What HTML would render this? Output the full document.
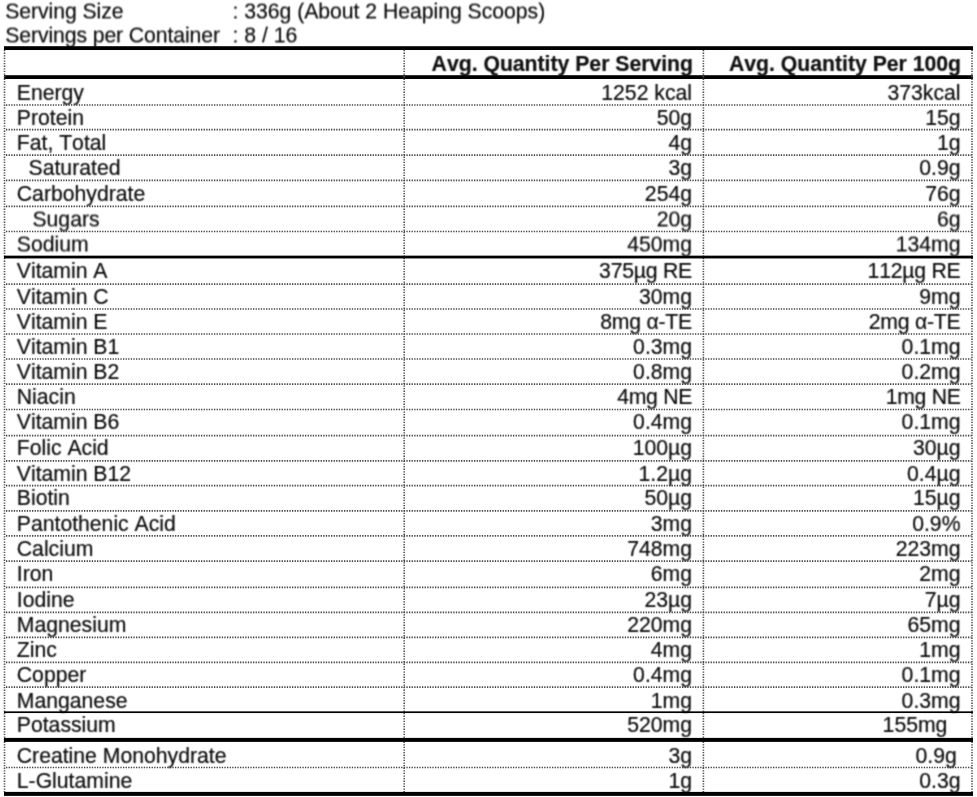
<!DOCTYPE html>
<html lang="en"><head><meta charset="utf-8"><title>Nutrition Information</title>
<style>
html,body{margin:0;padding:0;background:#fff;}
body{width:977px;height:797px;position:relative;overflow:hidden;font-family:"Liberation Sans",Arial,Helvetica,sans-serif;font-size:21.2px;line-height:1;color:#0d0d0d;}
.t{position:absolute;white-space:pre;line-height:1;font-kerning:none;font-variant-ligatures:none;-webkit-text-stroke:0.2px #0d0d0d;}
.r{text-align:right;}
.b{font-weight:bold;color:#111;}
.ln{position:absolute;left:0;top:0;pointer-events:none;}
.ln rect{fill:#000;}
.ln .d{stroke:#424242;stroke-width:1.7;stroke-dasharray:1.3 1.3;fill:none;}
.ln .v{stroke:#505050;stroke-width:1.6;}
#pg,#ph{position:absolute;left:0;top:0;width:977px;height:797px;filter:url(#soft);}
#ph{filter:url(#softh);}
</style></head><body>
<svg width="0" height="0" style="position:absolute" aria-hidden="true"><filter id="soft" x="0" y="0" width="100%" height="100%" color-interpolation-filters="sRGB"><feConvolveMatrix order="3" kernelMatrix="0.0484 0.1232 0.0484 0.1232 0.3136 0.1232 0.0484 0.1232 0.0484" divisor="1" edgeMode="duplicate" preserveAlpha="false"/></filter><filter id="softh" x="0" y="0" width="100%" height="100%" color-interpolation-filters="sRGB"><feConvolveMatrix order="3 4" targetX="1" targetY="2" kernelMatrix="0.0242 0.0616 0.0242 0.0858 0.2184 0.0858 0.0858 0.2184 0.0858 0.0242 0.0616 0.0242" divisor="1" edgeMode="duplicate" preserveAlpha="false"/></filter></svg>
<div id="pg">
<div class="t r b" style="right:284.0px;top:53.00px">Avg. Quantity Per Serving</div>
<div class="t r b" style="right:16.0px;top:53.00px">Avg. Quantity Per 100g</div>
<div class="t " style="left:16.8px;top:82.00px">Energy</div>
<div class="t r " style="right:285.0px;top:82.00px">1252 kcal</div>
<div class="t r " style="right:16.5px;top:82.00px">373kcal</div>
<div class="t " style="left:16.8px;top:107.00px">Protein</div>
<div class="t r " style="right:285.0px;top:107.00px">50g</div>
<div class="t r " style="right:16.5px;top:107.00px">15g</div>
<div class="t " style="left:16.8px;top:132.00px">Fat, Total</div>
<div class="t r " style="right:285.0px;top:132.00px">4g</div>
<div class="t r " style="right:16.5px;top:132.00px">1g</div>
<div class="t " style="left:16.8px;top:157.00px">  Saturated</div>
<div class="t r " style="right:285.0px;top:157.00px">3g</div>
<div class="t r " style="right:16.5px;top:157.00px">0.9g</div>
<div class="t " style="left:16.8px;top:183.00px">Carbohydrate</div>
<div class="t r " style="right:285.0px;top:183.00px">254g</div>
<div class="t r " style="right:16.5px;top:183.00px">76g</div>
<div class="t " style="left:16.8px;top:260.00px">Vitamin A</div>
<div class="t r " style="right:285.0px;top:260.00px;letter-spacing:-0.22px">375µg RE</div>
<div class="t r " style="right:16.5px;top:260.00px;letter-spacing:-0.22px">112µg RE</div>
<div class="t " style="left:16.8px;top:286.00px">Vitamin C</div>
<div class="t r " style="right:285.0px;top:286.00px">30mg</div>
<div class="t r " style="right:16.5px;top:286.00px">9mg</div>
<div class="t " style="left:16.8px;top:311.00px">Vitamin E</div>
<div class="t r " style="right:285.0px;top:311.00px;letter-spacing:-0.22px">8mg α-TE</div>
<div class="t r " style="right:16.5px;top:311.00px;letter-spacing:-0.22px">2mg α-TE</div>
<div class="t " style="left:16.8px;top:336.00px">Vitamin B1</div>
<div class="t r " style="right:285.0px;top:336.00px">0.3mg</div>
<div class="t r " style="right:16.5px;top:336.00px">0.1mg</div>
<div class="t " style="left:16.8px;top:361.00px">Vitamin B2</div>
<div class="t r " style="right:285.0px;top:361.00px">0.8mg</div>
<div class="t r " style="right:16.5px;top:361.00px">0.2mg</div>
<div class="t " style="left:16.8px;top:386.00px">Niacin</div>
<div class="t r " style="right:285.0px;top:386.00px;letter-spacing:-0.3px">4mg NE</div>
<div class="t r " style="right:16.5px;top:386.00px;letter-spacing:-0.3px">1mg NE</div>
<div class="t " style="left:16.8px;top:411.00px">Vitamin B6</div>
<div class="t r " style="right:285.0px;top:411.00px">0.4mg</div>
<div class="t r " style="right:16.5px;top:411.00px">0.1mg</div>
<div class="t " style="left:16.8px;top:437.00px">Folic Acid</div>
<div class="t r " style="right:285.0px;top:437.00px">100µg</div>
<div class="t r " style="right:16.5px;top:437.00px">30µg</div>
<div class="t " style="left:16.8px;top:463.00px">Vitamin B12</div>
<div class="t r " style="right:285.0px;top:463.00px">1.2µg</div>
<div class="t r " style="right:16.5px;top:463.00px">0.4µg</div>
<div class="t " style="left:16.8px;top:487.00px">Biotin</div>
<div class="t r " style="right:285.0px;top:487.00px">50µg</div>
<div class="t r " style="right:16.5px;top:487.00px">15µg</div>
<div class="t " style="left:16.8px;top:513.00px">Pantothenic Acid</div>
<div class="t r " style="right:285.0px;top:513.00px">3mg</div>
<div class="t r " style="right:16.5px;top:513.00px">0.9%</div>
<div class="t " style="left:16.8px;top:538.00px">Calcium</div>
<div class="t r " style="right:285.0px;top:538.00px">748mg</div>
<div class="t r " style="right:16.5px;top:538.00px">223mg</div>
<div class="t " style="left:16.8px;top:563.00px">Iron</div>
<div class="t r " style="right:285.0px;top:563.00px">6mg</div>
<div class="t r " style="right:16.5px;top:563.00px">2mg</div>
<div class="t " style="left:16.8px;top:589.00px">Iodine</div>
<div class="t r " style="right:285.0px;top:589.00px">23µg</div>
<div class="t r " style="right:16.5px;top:589.00px">7µg</div>
<div class="t " style="left:16.8px;top:614.00px">Magnesium</div>
<div class="t r " style="right:285.0px;top:614.00px">220mg</div>
<div class="t r " style="right:16.5px;top:614.00px">65mg</div>
<div class="t " style="left:16.8px;top:639.00px">Zinc</div>
<div class="t r " style="right:285.0px;top:639.00px">4mg</div>
<div class="t r " style="right:16.5px;top:639.00px">1mg</div>
<div class="t " style="left:16.8px;top:664.00px">Copper</div>
<div class="t r " style="right:285.0px;top:664.00px">0.4mg</div>
<div class="t r " style="right:16.5px;top:664.00px">0.1mg</div>
<div class="t " style="left:16.8px;top:690.00px">Manganese</div>
<div class="t r " style="right:285.0px;top:690.00px">1mg</div>
<div class="t r " style="right:16.5px;top:690.00px">0.3mg</div>
<div class="t " style="left:16.8px;top:714.00px">Potassium</div>
<div class="t r " style="right:285.0px;top:714.00px">520mg</div>
<div class="t r " style="right:29.6px;top:714.00px">155mg</div>
<div class="t " style="left:16.8px;top:745.00px">Creatine Monohydrate</div>
<div class="t r " style="right:285.0px;top:745.00px">3g</div>
<div class="t r " style="right:20.2px;top:745.00px">0.9g</div>
<div class="t " style="left:16.8px;top:770.00px">L-Glutamine</div>
<div class="t r " style="right:285.0px;top:770.00px">1g</div>
<div class="t r " style="right:16.5px;top:770.00px">0.3g</div>
</div>
<div id="ph">
<div class="t " style="left:5.2px;top:0.00px;letter-spacing:-0.05px">Serving Size</div>
<div class="t " style="left:232.5px;top:0.00px;letter-spacing:-0.02px">: 336g (About 2 Heaping Scoops)</div>
<div class="t " style="left:5.2px;top:24.00px;letter-spacing:-0.09px">Servings per Container</div>
<div class="t " style="left:232.5px;top:24.00px">: 8 / 16</div>
<div class="t " style="left:14.8px;top:208.00px">   Sugars</div>
<div class="t r " style="right:285.0px;top:208.00px">20g</div>
<div class="t r " style="right:16.5px;top:208.00px">6g</div>
<div class="t " style="left:16.8px;top:233.00px">Sodium</div>
<div class="t r " style="right:285.0px;top:233.00px">450mg</div>
<div class="t r " style="right:16.5px;top:233.00px">134mg</div>
</div>
<svg class="ln" width="977" height="797" viewBox="0 0 977 797" aria-hidden="true">
<rect x="4.0" y="46.2" width="969.0" height="3.8"/>
<rect x="4.0" y="75.2" width="969.0" height="3.8"/>
<line class="d v" x1="4.50" y1="50" x2="4.50" y2="792"/>
<line class="d v" x1="404.20" y1="50" x2="404.20" y2="792"/>
<line class="d v" x1="703.40" y1="50" x2="703.40" y2="792"/>
<line class="d v" x1="972.00" y1="50" x2="972.00" y2="792"/>
<line class="d" x1="6.00" y1="105.00" x2="971.50" y2="105.00"/>
<line class="d" x1="6.00" y1="129.70" x2="971.50" y2="129.70"/>
<line class="d" x1="6.00" y1="155.10" x2="971.50" y2="155.10"/>
<line class="d" x1="6.00" y1="180.30" x2="971.50" y2="180.30"/>
<line class="d" x1="6.00" y1="206.30" x2="971.50" y2="206.30"/>
<line class="d" x1="6.00" y1="231.50" x2="971.50" y2="231.50"/>
<rect x="4.0" y="255.65" width="969.0" height="2.8"/>
<line class="d" x1="6.00" y1="284.20" x2="971.50" y2="284.20"/>
<line class="d" x1="6.00" y1="309.00" x2="971.50" y2="309.00"/>
<line class="d" x1="6.00" y1="334.00" x2="971.50" y2="334.00"/>
<line class="d" x1="6.00" y1="359.00" x2="971.50" y2="359.00"/>
<line class="d" x1="6.00" y1="384.10" x2="971.50" y2="384.10"/>
<line class="d" x1="6.00" y1="409.50" x2="971.50" y2="409.50"/>
<line class="d" x1="6.00" y1="435.70" x2="971.50" y2="435.70"/>
<line class="d" x1="6.00" y1="460.80" x2="971.50" y2="460.80"/>
<line class="d" x1="6.00" y1="485.70" x2="971.50" y2="485.70"/>
<line class="d" x1="6.00" y1="510.80" x2="971.50" y2="510.80"/>
<line class="d" x1="6.00" y1="535.90" x2="971.50" y2="535.90"/>
<line class="d" x1="6.00" y1="561.10" x2="971.50" y2="561.10"/>
<line class="d" x1="6.00" y1="587.30" x2="971.50" y2="587.30"/>
<line class="d" x1="6.00" y1="612.30" x2="971.50" y2="612.30"/>
<line class="d" x1="6.00" y1="637.40" x2="971.50" y2="637.40"/>
<line class="d" x1="6.00" y1="662.30" x2="971.50" y2="662.30"/>
<line class="d" x1="6.00" y1="687.20" x2="971.50" y2="687.20"/>
<rect x="4.0" y="711.35" width="969.0" height="1.7" fill="#505050"/>
<rect x="4.0" y="737.90" width="969.0" height="4"/>
<line class="d" x1="6.00" y1="767.50" x2="971.50" y2="767.50"/>
<rect x="4.0" y="791.90" width="969.0" height="4"/>
</svg>
</body></html>
